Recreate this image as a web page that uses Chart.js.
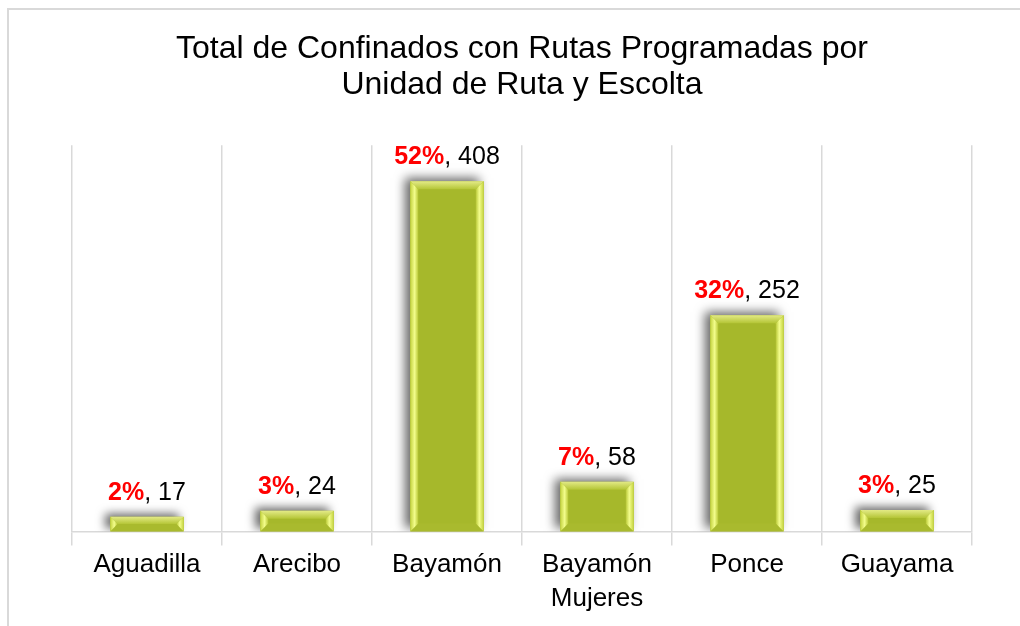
<!DOCTYPE html>
<html>
<head>
<meta charset="utf-8">
<script src="https://cdn.jsdelivr.net/npm/chart.js@4"></script>
<style>
  body { margin: 0; background: #fff; }
  #wrap { position: relative; width: 1020px; height: 626px; overflow: hidden; }
  #frame { position: absolute; left: 7px; top: 8px; width: 1100px; height: 700px;
           border-left: 2px solid #d9d9d9; border-top: 2px solid #d9d9d9; }
  canvas { position: absolute; left: 0; top: 0; }
</style>
</head>
<body>
<div id="wrap">
  <div id="frame"></div>
  <canvas id="chart" width="1020" height="626"></canvas>
</div>
<script>
// Chart data
const categories = ['Aguadilla', 'Arecibo', 'Bayamón', ['Bayamón', 'Mujeres'], 'Ponce', 'Guayama'];
const totals = [17, 24, 408, 58, 252, 25];
const percents = ['2%', '3%', '52%', '7%', '32%', '3%'];

const font = '"Liberation Sans", Arial, sans-serif';

// Shadow behind the bars (falls to the left/top)
const shadowPlugin = {
    id: 'barShadow',
    beforeDatasetsDraw(chart) {
        const ctx = chart.ctx;
        ctx.save();
        ctx.shadowColor = 'rgba(0,0,0,0.6)';
        ctx.shadowBlur = 10;
        ctx.shadowOffsetX = -5;
        ctx.shadowOffsetY = -3;
    },
    afterDatasetsDraw(chart) {
        chart.ctx.restore();
    }
};

// Bevel edges on top of each bar + the "pct, total" labels
const bevelPlugin = {
    id: 'bevel',
    afterDatasetsDraw(chart) {
        const ctx = chart.ctx;
        const meta = chart.getDatasetMeta(0);
        meta.data.forEach((bar, i) => {
            const x0 = bar.x - bar.width / 2;
            const x1 = bar.x + bar.width / 2;
            const y0 = bar.y;
            const y1 = bar.base;
            const b = Math.min(8, (y1 - y0) / 2);

            ctx.save();
            // top edge
            let g = ctx.createLinearGradient(0, y0, 0, y0 + b);
            g.addColorStop(0, '#e3ea86');
            g.addColorStop(1, '#b4c536');
            ctx.fillStyle = g;
            ctx.beginPath();
            ctx.moveTo(x0, y0); ctx.lineTo(x1, y0);
            ctx.lineTo(x1 - b, y0 + b); ctx.lineTo(x0 + b, y0 + b);
            ctx.closePath(); ctx.fill();

            // bottom edge
            ctx.fillStyle = '#a9ba2e';
            ctx.beginPath();
            ctx.moveTo(x0, y1); ctx.lineTo(x1, y1);
            ctx.lineTo(x1 - b, y1 - b); ctx.lineTo(x0 + b, y1 - b);
            ctx.closePath(); ctx.fill();

            // left edge
            g = ctx.createLinearGradient(x0, 0, x0 + b, 0);
            g.addColorStop(0, '#c3d23e');
            g.addColorStop(0.55, '#f3fd8c');
            g.addColorStop(1, '#b9c937');
            ctx.fillStyle = g;
            ctx.beginPath();
            ctx.moveTo(x0, y0); ctx.lineTo(x0 + b, y0 + b);
            ctx.lineTo(x0 + b, y1 - b); ctx.lineTo(x0, y1);
            ctx.closePath(); ctx.fill();

            // right edge
            g = ctx.createLinearGradient(x1 - b, 0, x1, 0);
            g.addColorStop(0, '#b9c937');
            g.addColorStop(0.45, '#f3fd8c');
            g.addColorStop(1, '#c3d23e');
            ctx.fillStyle = g;
            ctx.beginPath();
            ctx.moveTo(x1, y0); ctx.lineTo(x1 - b, y0 + b);
            ctx.lineTo(x1 - b, y1 - b); ctx.lineTo(x1, y1);
            ctx.closePath(); ctx.fill();
            ctx.restore();

            // label: red bold percent + ", total"
            ctx.save();
            const pct = percents[i];
            const rest = ', ' + totals[i];
            ctx.font = 'bold 25px ' + font;
            const w1 = ctx.measureText(pct).width;
            ctx.font = '25px ' + font;
            const w2 = ctx.measureText(rest).width;
            const sx = bar.x - (w1 + w2) / 2;
            const by = bar.y - 17;
            ctx.textBaseline = 'alphabetic';
            ctx.textAlign = 'left';
            ctx.font = 'bold 25px ' + font;
            ctx.fillStyle = '#ff0000';
            ctx.fillText(pct, sx, by);
            ctx.font = '25px ' + font;
            ctx.fillStyle = '#000000';
            ctx.fillText(rest, sx + w1, by);
            ctx.restore();
        });
    }
};

const ctx = document.getElementById('chart').getContext('2d');

const chart = new Chart(ctx, {
    type: 'bar',
    data: {
        labels: categories,
        datasets: [{
            data: totals,
            backgroundColor: '#a6b82b',
            borderWidth: 0,
            barPercentage: 0.49,
            categoryPercentage: 1
        }]
    },
    options: {
        responsive: false,
        animation: false,
        events: [],
        layout: {
            padding: { left: 72, right: 48, top: 0, bottom: 7 }
        },
        plugins: {
            legend: { display: false },
            tooltip: { enabled: false },
            title: {
                display: true,
                text: ['Total de Confinados con Rutas Programadas por', 'Unidad de Ruta y Escolta'],
                color: '#000',
                font: { family: font, size: 32, weight: 'normal', lineHeight: 1.13 },
                padding: { top: 31, bottom: 42 }
            }
        },
        scales: {
            x: {
                offset: true,
                grid: {
                    offset: true,
                    color: '#d9d9d9',
                    lineWidth: 1.5,
                    tickLength: 14,
                    drawOnChartArea: true
                },
                border: { display: true, color: '#d9d9d9', width: 1.5 },
                ticks: {
                    color: '#000',
                    padding: 3,
                    maxRotation: 0,
                    font: { family: font, size: 26, lineHeight: 1.3 }
                }
            },
            y: {
                display: false,
                min: 0,
                max: 450
            }
        }
    },
    plugins: [shadowPlugin, bevelPlugin]
});
</script>
</body>
</html>
